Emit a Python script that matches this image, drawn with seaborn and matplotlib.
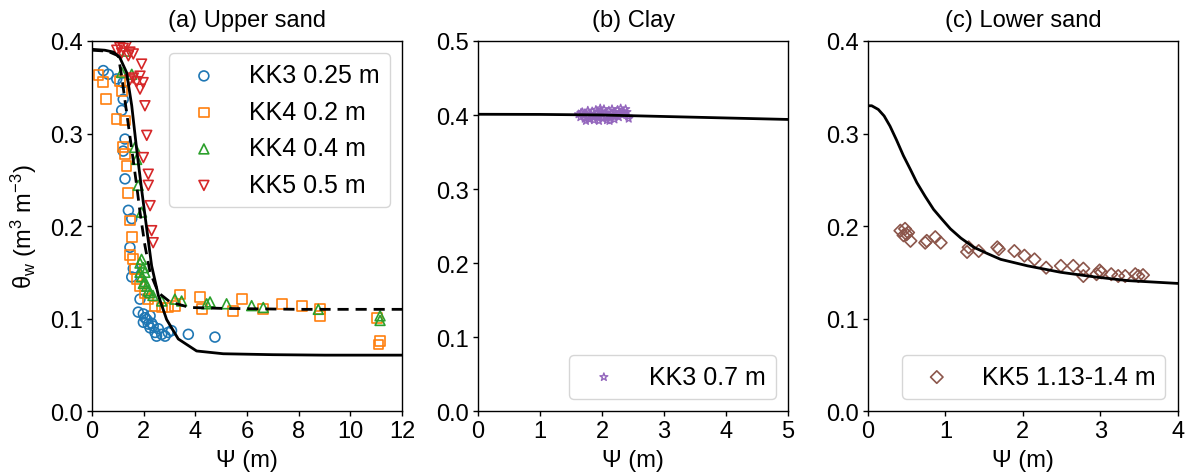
import matplotlib
matplotlib.use("Agg")
import matplotlib.pyplot as plt
import seaborn as sns
import pandas as pd

# ---------------- data ----------------
# (a) Upper sand
kk3_025_psi = [0.44, 0.63, 0.96, 1.21, 1.21, 1.15, 1.28, 1.21, 1.28, 1.41, 1.54, 1.47,
               1.60, 1.54, 1.86, 1.79, 1.99, 2.12, 2.25, 2.18, 2.37, 2.57, 2.44, 2.70,
               2.83, 2.95, 3.08, 1.99, 2.50, 2.25, 2.05, 2.31, 3.73, 4.76]
kk3_025_theta = [0.368, 0.364, 0.359, 0.355, 0.337, 0.325, 0.294, 0.281, 0.251, 0.217,
                 0.208, 0.177, 0.154, 0.145, 0.121, 0.107, 0.105, 0.099, 0.103, 0.094,
                 0.092, 0.089, 0.085, 0.083, 0.081, 0.085, 0.087, 0.096, 0.081, 0.090,
                 0.101, 0.095, 0.083, 0.080]

kk4_02_psi = [0.25, 0.44, 0.54, 0.95, 1.28, 1.08, 1.15, 1.21, 1.28, 1.34, 1.41, 1.47,
              1.54, 1.47, 1.60, 1.66, 1.73, 1.86, 2.05, 2.18, 2.44, 2.70, 2.95, 3.21,
              3.41, 4.18, 4.25, 5.47, 5.80, 6.63, 7.34, 8.12, 8.83, 8.83, 11.02, 11.15,
              11.09]
kk4_02_theta = [0.363, 0.356, 0.337, 0.316, 0.314, 0.357, 0.346, 0.285, 0.278, 0.265,
                0.236, 0.206, 0.188, 0.169, 0.164, 0.154, 0.143, 0.135, 0.128, 0.121,
                0.114, 0.112, 0.112, 0.114, 0.126, 0.123, 0.110, 0.108, 0.121, 0.110,
                0.116, 0.114, 0.110, 0.103, 0.101, 0.076, 0.072]

kk4_04_psi = [1.34, 1.15, 1.54, 1.66, 1.73, 1.79, 1.92, 1.86, 1.92, 1.99, 2.05, 1.92,
              2.05, 2.12, 2.18, 1.99, 2.25, 2.36, 1.86, 2.70, 3.21, 3.47, 4.44, 4.57,
              5.21, 6.18, 6.63, 8.76, 11.15, 11.15]
kk4_04_theta = [0.389, 0.366, 0.364, 0.285, 0.272, 0.244, 0.215, 0.160, 0.164, 0.155,
                0.150, 0.145, 0.140, 0.135, 0.130, 0.138, 0.128, 0.125, 0.150, 0.119,
                0.121, 0.119, 0.116, 0.118, 0.116, 0.114, 0.112, 0.110, 0.103, 0.098]

kk5_05_psi = [0.96, 1.08, 1.21, 1.34, 1.47, 1.60, 1.15, 1.41, 1.92, 1.47, 1.60, 1.73,
              1.86, 1.98, 1.86, 2.05, 2.12, 1.99, 2.18, 2.18, 2.25, 2.31, 2.37]
kk5_05_theta = [0.390, 0.393, 0.392, 0.395, 0.388, 0.386, 0.387, 0.384, 0.375, 0.358,
                0.360, 0.356, 0.362, 0.355, 0.348, 0.330, 0.298, 0.274, 0.256, 0.244,
                0.222, 0.195, 0.182]

fit_a_solid_psi = [0.0, 0.50, 0.83, 1.08, 1.34, 1.54, 1.73, 1.92, 2.12, 2.31, 2.57,
                   2.89, 3.34, 4.05, 5.08, 7.0, 9.0, 12.0]
fit_a_solid_theta = [0.391, 0.390, 0.388, 0.382, 0.366, 0.330, 0.283, 0.240, 0.197,
                     0.157, 0.125, 0.099, 0.078, 0.065, 0.062, 0.061, 0.0605, 0.0605]

fit_a_dashed_psi = [0.0, 0.60, 1.02, 1.15, 1.34, 1.54, 1.73, 1.86, 2.05, 2.25, 2.57,
                    3.02, 3.79, 5.08, 8.0, 12.0]
fit_a_dashed_theta = [0.390, 0.389, 0.384, 0.362, 0.323, 0.283, 0.244, 0.215, 0.179,
                      0.150, 0.128, 0.118, 0.112, 0.111, 0.110, 0.110]

# (b) Clay
kk3_07_psi = [1.62, 1.65, 1.68, 1.70, 1.72, 1.75, 1.77, 1.78, 1.80, 1.82, 1.84, 1.85,
              1.87, 1.88, 1.90, 1.92, 1.93, 1.95, 1.96, 1.98, 2.00, 2.01, 2.03, 2.05,
              2.06, 2.08, 2.10, 2.11, 2.13, 2.15, 2.16, 2.18, 2.20, 2.21, 2.23, 2.25,
              2.27, 2.28, 2.30, 2.32, 2.34, 2.36, 2.38, 2.40, 2.42, 2.43, 1.74, 1.97,
              2.12, 1.66]
kk3_07_theta = [0.401, 0.397, 0.404, 0.399, 0.395, 0.402, 0.406, 0.398, 0.394, 0.401,
                0.405, 0.397, 0.393, 0.400, 0.407, 0.403, 0.396, 0.392, 0.399, 0.405,
                0.401, 0.395, 0.408, 0.398, 0.403, 0.393, 0.400, 0.406, 0.396, 0.402,
                0.408, 0.398, 0.394, 0.404, 0.400, 0.407, 0.397, 0.403, 0.409, 0.400,
                0.405, 0.402, 0.408, 0.404, 0.398, 0.395, 0.392, 0.409, 0.392, 0.403]

fit_b_psi = [0.0, 1.0, 2.0, 3.0, 4.0, 5.0]
fit_b_theta = [0.401, 0.4008, 0.400, 0.398, 0.396, 0.394]

# (c) Lower sand
kk5_deep_psi = [0.42, 0.48, 0.50, 0.46, 0.55, 0.52, 0.74, 0.76, 0.87, 0.94, 1.28, 1.30,
                1.43, 1.67, 1.69, 1.89, 2.02, 2.15, 2.30, 2.49, 2.65, 2.78, 2.78, 2.95,
                2.99, 3.01, 3.14, 3.23, 3.32, 3.45, 3.49, 3.55]
kk5_deep_theta = [0.195, 0.197, 0.191, 0.190, 0.184, 0.193, 0.182, 0.184, 0.188, 0.182,
                  0.172, 0.177, 0.173, 0.177, 0.175, 0.173, 0.168, 0.164, 0.155, 0.157,
                  0.157, 0.154, 0.146, 0.148, 0.152, 0.150, 0.148, 0.146, 0.146, 0.148,
                  0.146, 0.147]

fit_c_psi = [0.0, 0.05, 0.135, 0.21, 0.286, 0.37, 0.459, 0.55, 0.632, 0.74, 0.848,
             0.96, 1.065, 1.2, 1.368, 1.55, 1.714, 2.06, 2.49, 2.93, 3.36, 4.0]
fit_c_theta = [0.330, 0.330, 0.326, 0.319, 0.308, 0.293, 0.276, 0.261, 0.247, 0.232,
               0.218, 0.207, 0.197, 0.187, 0.177, 0.170, 0.164, 0.157, 0.150, 0.145,
               0.141, 0.138]

panel_titles = ["(a) Upper sand", "(b) Clay", "(c) Lower sand"]
xlabel_text = "Ψ (m)"
ylabel_text = "θ$_w$ (m$^3$ m$^{-3}$)"

# ---------------- style ----------------
sns.set_theme(style="ticks")
plt.rcParams["font.family"] = ["Liberation Sans", "DejaVu Sans"]
plt.rcParams["mathtext.default"] = "regular"
for key in ["text.color", "axes.labelcolor", "xtick.color", "ytick.color",
            "axes.edgecolor"]:
    plt.rcParams[key] = "black"
plt.rcParams["axes.linewidth"] = 1.0
plt.rcParams["xtick.major.width"] = 1.0
plt.rcParams["ytick.major.width"] = 1.0
plt.rcParams["xtick.major.size"] = 3.5
plt.rcParams["ytick.major.size"] = 3.5

TEXT_FS = 17
LEG_FS = 18

fig = plt.figure(figsize=(11.88, 4.77), dpi=100)
w, h, b = 0.261, 0.776, 0.136
axes = [fig.add_axes([0.0774, b, w, h]),
        fig.add_axes([0.4024, b, w, h]),
        fig.add_axes([0.7305, b, w, h])]

pal = sns.color_palette("tab10")


def open_scatter(ax, x, y, marker, color, label, size=50, lw=1.2):
    df = pd.DataFrame({"x": x, "y": y})
    sns.scatterplot(data=df, x="x", y="y", ax=ax, marker=marker, s=size,
                    facecolor="none", edgecolor=color, linewidth=lw, label=label)


def fit_line(ax, x, y, ls="-"):
    df = pd.DataFrame({"x": x, "y": y})
    sns.lineplot(data=df, x="x", y="y", ax=ax, color="black", linewidth=2.0,
                 linestyle=ls, sort=False, estimator=None, legend=False)


# (a)
ax = axes[0]
open_scatter(ax, kk3_025_psi, kk3_025_theta, "o", pal[0], "KK3 0.25 m")
open_scatter(ax, kk4_02_psi, kk4_02_theta, "s", pal[1], "KK4 0.2 m")
open_scatter(ax, kk4_04_psi, kk4_04_theta, "^", pal[2], "KK4 0.4 m")
open_scatter(ax, kk5_05_psi, kk5_05_theta, "v", pal[3], "KK5 0.5 m")
fit_line(ax, fit_a_solid_psi, fit_a_solid_theta, "-")
fit_line(ax, fit_a_dashed_psi, fit_a_dashed_theta, (0, (4, 2.5)))
ax.set_xlim(0, 12)
ax.set_ylim(0, 0.4)
ax.set_xticks([0, 2, 4, 6, 8, 10, 12])
ax.set_yticks([0.0, 0.1, 0.2, 0.3, 0.4])
ax.legend(loc="upper right", fontsize=LEG_FS)
ax.set_ylabel(ylabel_text, fontsize=TEXT_FS, labelpad=8)

# (b)
ax = axes[1]
open_scatter(ax, kk3_07_psi, kk3_07_theta, "*", pal[4], "KK3 0.7 m", size=35, lw=1.0)
fit_line(ax, fit_b_psi, fit_b_theta, "-")
ax.set_xlim(0, 5)
ax.set_ylim(0, 0.5)
ax.set_xticks([0, 1, 2, 3, 4, 5])
ax.set_yticks([0.0, 0.1, 0.2, 0.3, 0.4, 0.5])
ax.legend(loc="lower right", fontsize=LEG_FS)
ax.set_ylabel("")

# (c)
ax = axes[2]
open_scatter(ax, kk5_deep_psi, kk5_deep_theta, "D", pal[5], "KK5 1.13-1.4 m", size=40)
fit_line(ax, fit_c_psi, fit_c_theta, "-")
ax.set_xlim(0, 4)
ax.set_ylim(0, 0.4)
ax.set_xticks([0, 1, 2, 3, 4])
ax.set_yticks([0.0, 0.1, 0.2, 0.3, 0.4])
ax.legend(loc="lower right", fontsize=LEG_FS)
ax.set_ylabel("")

for ax, title in zip(axes, panel_titles):
    ax.set_title(title, fontsize=TEXT_FS, pad=11)
    ax.set_xlabel(xlabel_text, fontsize=TEXT_FS, labelpad=5)
    ax.tick_params(labelsize=TEXT_FS, pad=3)
    ax.yaxis.set_major_formatter(matplotlib.ticker.FormatStrFormatter("%.1f"))
    for s in ax.spines.values():
        s.set_visible(True)

fig.savefig("out.png", dpi=100)
